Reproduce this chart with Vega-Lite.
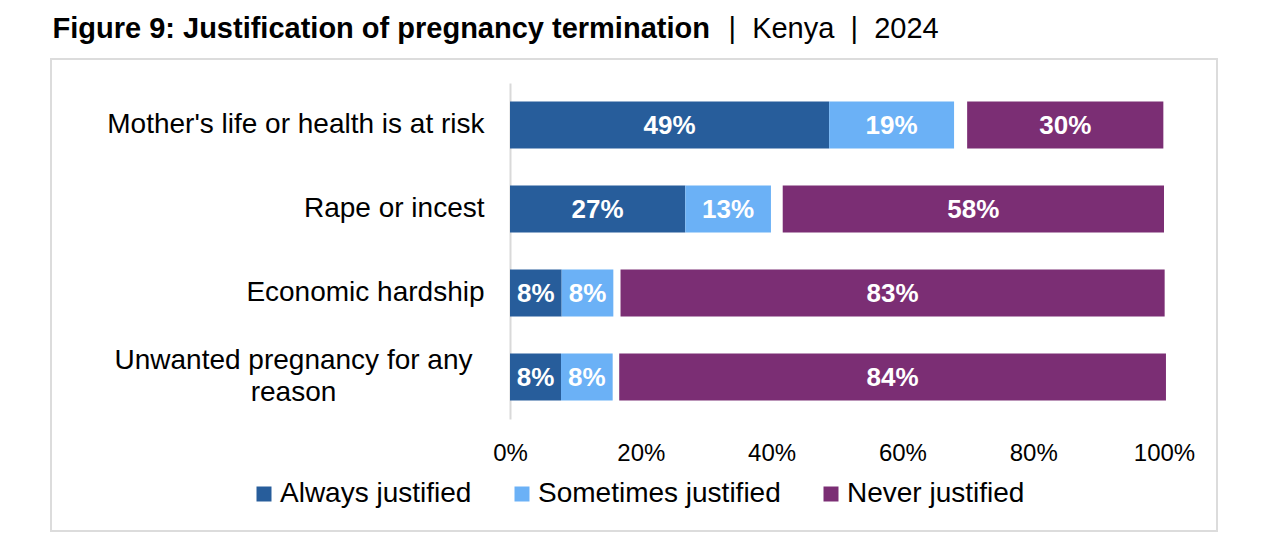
{
  "$schema": "https://vega.github.io/schema/vega-lite/v6.json",
  "width": 1166,
  "height": 472,
  "autosize": {"type": "none"},
  "padding": {"left": 51, "top": 59, "right": 65, "bottom": 13},
  "background": "white",
  "config": {
    "view": {"stroke": "#DCDCDC", "strokeWidth": 2},
    "font": "Liberation Sans"
  },
  "data": {
    "values": [
      {"question": "Mother's life or health is at risk", "response": "Always justified", "order": 1, "value": 0.488},
      {"question": "Mother's life or health is at risk", "response": "Sometimes justified", "order": 2, "value": 0.191},
      {"question": "Mother's life or health is at risk", "response": "Don't know", "order": 3, "value": 0.020},
      {"question": "Mother's life or health is at risk", "response": "Never justified", "order": 4, "value": 0.300},
      {"question": "Rape or incest", "response": "Always justified", "order": 1, "value": 0.268},
      {"question": "Rape or incest", "response": "Sometimes justified", "order": 2, "value": 0.131},
      {"question": "Rape or incest", "response": "Don't know", "order": 3, "value": 0.018},
      {"question": "Rape or incest", "response": "Never justified", "order": 4, "value": 0.583},
      {"question": "Economic hardship", "response": "Always justified", "order": 1, "value": 0.079},
      {"question": "Economic hardship", "response": "Sometimes justified", "order": 2, "value": 0.079},
      {"question": "Economic hardship", "response": "Don't know", "order": 3, "value": 0.011},
      {"question": "Economic hardship", "response": "Never justified", "order": 4, "value": 0.832},
      {"question": "Unwanted pregnancy for any reason", "response": "Always justified", "order": 1, "value": 0.078},
      {"question": "Unwanted pregnancy for any reason", "response": "Sometimes justified", "order": 2, "value": 0.079},
      {"question": "Unwanted pregnancy for any reason", "response": "Don't know", "order": 3, "value": 0.010},
      {"question": "Unwanted pregnancy for any reason", "response": "Never justified", "order": 4, "value": 0.836}
    ]
  },
  "transform": [
    {"stack": "value", "groupby": ["question"], "sort": [{"field": "order", "order": "ascending"}], "as": ["x0", "x1"]},
    {"calculate": "(datum.x0 + datum.x1) / 2", "as": "xmid"}
  ],
  "encoding": {
    "y": {
      "field": "question",
      "type": "nominal",
      "sort": ["Mother's life or health is at risk", "Rape or incest", "Economic hardship", "Unwanted pregnancy for any reason"],
      "scale": {"range": [24, 360], "paddingInner": 0.44, "paddingOuter": 0.22},
      "axis": {
        "orient": "left",
        "offset": -459,
        "ticks": false,
        "grid": false,
        "domain": true,
        "domainColor": "#D9D9D9",
        "domainWidth": 2,
        "labelFont": "Liberation Sans",
        "labelFontSize": 28,
        "labelColor": "#000000",
        "labelLimit": 600,
        "labelLineHeight": 32,
        "labelPadding": {"condition": {"test": "indexof(datum.value, 'Unwanted') >= 0", "value": 217}, "value": 26},
        "labelAlign": {"condition": {"test": "indexof(datum.value, 'Unwanted') >= 0", "value": "center"}, "value": "right"},
        "labelOffset": {"condition": {"test": "indexof(datum.value, 'Unwanted') >= 0", "value": -16}, "value": 0},
        "labelExpr": "datum.value == 'Unwanted pregnancy for any reason' ? ['Unwanted pregnancy for any', 'reason'] : datum.value",
        "title": "Figure 9: Justification of pregnancy termination",
        "titleAngle": 0,
        "titleAlign": "left",
        "titleBaseline": "alphabetic",
        "titleX": -458,
        "titleY": -22,
        "titleFont": "Liberation Sans",
        "titleFontSize": 29,
        "titleFontWeight": "bold",
        "titleColor": "#000000"
      }
    }
  },
  "layer": [
    {
      "mark": {"type": "bar"},
      "encoding": {
        "x": {
          "field": "x0",
          "type": "quantitative",
          "scale": {"domain": [0, 1], "range": [459, 1113], "nice": false, "clamp": false},
          "axis": {
            "orient": "bottom",
            "offset": -95,
            "values": [0, 0.2, 0.4, 0.6, 0.8, 1],
            "format": ".0%",
            "ticks": false,
            "grid": false,
            "domain": false,
            "labelFlush": false,
            "labelOverlap": false,
            "labelPadding": 5,
            "labelFont": "Liberation Sans",
            "labelFontSize": 24,
            "labelColor": "#000000",
            "title": "|\u00a0 Kenya\u00a0 |\u00a0 2024",
            "titleAngle": 0,
            "titleAlign": "left",
            "titleBaseline": "alphabetic",
            "titleX": 677,
            "titleY": -399,
            "titleFont": "Liberation Sans",
            "titleFontSize": 29,
            "titleFontWeight": "normal",
            "titleColor": "#000000"
          }
        },
        "x2": {"field": "x1"},
        "color": {
          "field": "response",
          "type": "nominal",
          "scale": {
            "domain": ["Always justified", "Sometimes justified", "Don't know", "Never justified"],
            "range": ["#275D9B", "#6BB1F6", "rgba(0,0,0,0)", "#7B2E74"]
          },
          "legend": {
            "values": ["Always justified", "Sometimes justified", "Never justified"],
            "orient": "none",
            "legendX": 199,
            "legendY": 421,
            "direction": "horizontal",
            "columns": 3,
            "title": null,
            "symbolType": "square",
            "symbolSize": 225,
            "symbolStrokeWidth": 0,
            "symbolOpacity": 1,
            "labelFont": "Liberation Sans",
            "labelFontSize": 28,
            "labelColor": "#000000",
            "labelOffset": 2,
            "labelLimit": 400,
            "columnPadding": 36
          }
        }
      }
    },
    {
      "transform": [{"filter": "datum.response != \"Don't know\""}],
      "mark": {"type": "text", "color": "white", "font": "Liberation Sans", "fontSize": 26, "fontWeight": "bold", "align": "center", "baseline": "middle", "dy": 1},
      "encoding": {
        "x": {"field": "xmid", "type": "quantitative"},
        "text": {"field": "value", "type": "quantitative", "format": ".0%"}
      }
    }
  ]
}
